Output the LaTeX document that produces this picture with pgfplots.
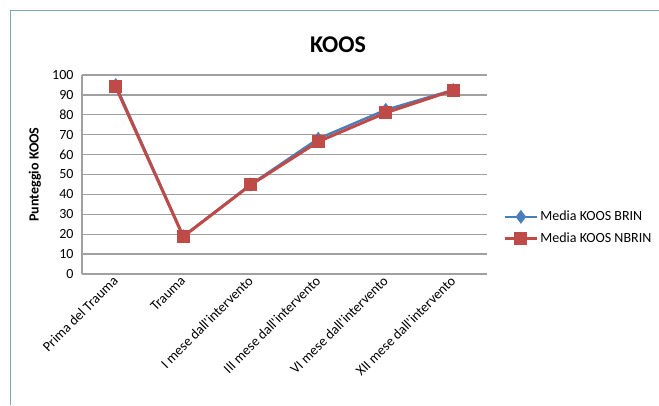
\documentclass[border=0pt]{standalone}
\usepackage{fontspec}
\setmainfont{Carlito}
\usepackage{pgfplots}
\pgfplotsset{compat=1.18}
\definecolor{brin}{HTML}{4A7EBB}
\definecolor{nbrin}{HTML}{BE4B48}
\definecolor{gridc}{HTML}{A0A0A0}
\definecolor{framec}{HTML}{7AA6B6}
\newcommand{\ap}{\textquotesingle}
\begin{document}
\begin{tikzpicture}
\path[use as bounding box] (0pt,0pt) rectangle (659pt,405pt);
\draw[framec, line width=1.6pt] (10.5pt,0pt) -- (10.5pt,394.5pt) -- (659pt,394.5pt);
\node[font=\fontsize{24}{28}\selectfont\bfseries] at (338pt,360pt) {KOOS};
\coordinate (A) at (82pt,131pt);
\begin{axis}[
  at={(A)}, anchor=south west,
  scale only axis, width=405pt, height=199pt,
  xmin=-0.5, xmax=5.5, ymin=0, ymax=100,
  ytick={0,10,...,100},
  xtick={0,...,5},
  xticklabels={Prima del Trauma, Trauma, I mese dall\ap intervento, III mese dall\ap intervento, VI mese dall\ap intervento, XII mese dall\ap intervento},
  xticklabel style={rotate=45, anchor=east, font=\fontsize{14}{16}\selectfont, yshift=-3pt},
  yticklabel style={font=\fontsize{14}{16}\selectfont, xshift=-5pt},
  /pgf/number format/assume math mode=true,
  axis x line*=bottom, axis y line*=left,
  axis line style={gridc, line width=1.3pt},
  major tick length=0,
  ymajorgrids, grid style={gridc, line width=1.3pt},
  ylabel={Punteggio KOOS},
  ylabel style={font=\fontsize{14}{16}\selectfont\bfseries, at={(axis description cs:-0.116,0.5)}, anchor=center},
  clip=false,
  legend style={at={(1.04,0.234)}, anchor=west, draw=none, fill=none,
     font=\fontsize{14}{16}\selectfont, row sep=6pt, inner xsep=0pt},
  legend cell align=left,
  legend image code/.code={\draw[mark repeat=2,mark phase=2,#1] plot coordinates {(0pt,0pt) (16pt,0pt) (32pt,0pt)};},
]
\addplot[brin, line width=2.4pt, mark=diamond*, mark size=5pt, mark options={solid}] coordinates {
 (0,95) (1,19) (2,45) (3,68) (4,82.5) (5,92.5)};
\addlegendentry{Media KOOS BRIN}
\addplot[nbrin, line width=3pt, mark=square*, mark size=5pt, mark options={solid}] coordinates {
 (0,94) (1,18.8) (2,44.8) (3,66.5) (4,81) (5,92.3)};
\addlegendentry{Media KOOS NBRIN}
\end{axis}
\end{tikzpicture}
\end{document}
